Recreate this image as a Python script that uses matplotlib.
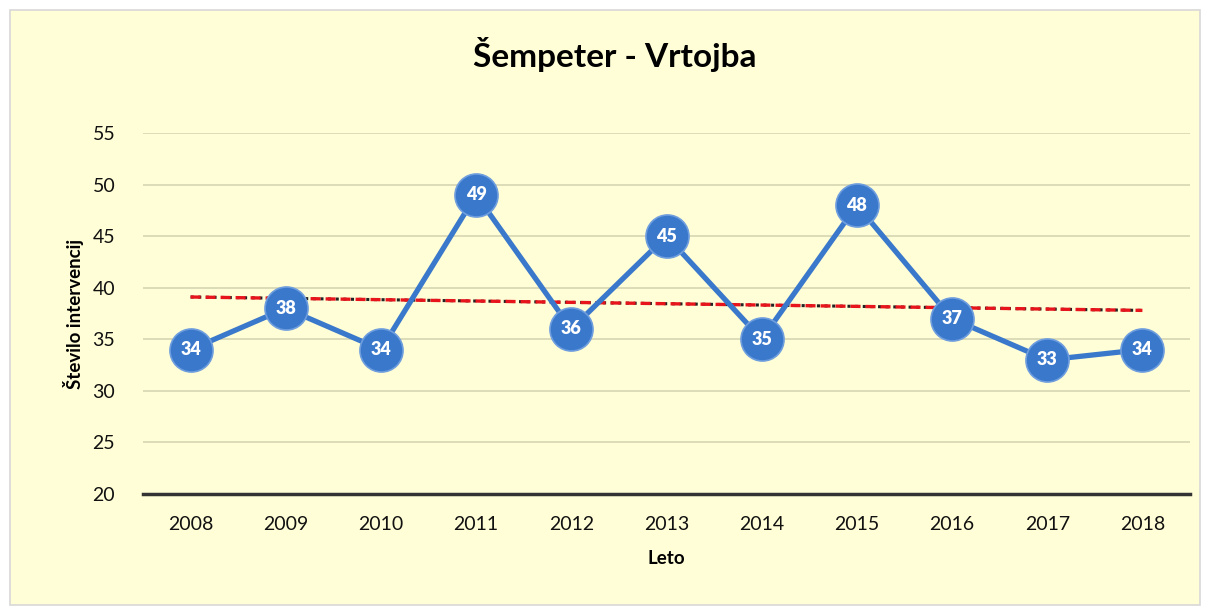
import numpy as np
import matplotlib
matplotlib.use("Agg")
from matplotlib import pyplot as plt
from matplotlib.patches import Rectangle

plt.rcParams['font.family'] = ['Lato', 'DejaVu Sans']

years = ['2008', '2009', '2010', '2011', '2012', '2013', '2014', '2015', '2016', '2017', '2018']
interventions = [34, 38, 34, 49, 36, 45, 35, 48, 37, 33, 34]
trend_ends = [39.1, 37.8]  # linear trend read at first and last year

bg = '#fffed6'
blue = '#3a78cc'

fig = plt.figure(figsize=(12.09, 6.09), dpi=100)
fig.patch.set_facecolor('white')
# yellow chart panel
fig.patches.append(Rectangle((10/1209, 4/609), 1190/1209, 595/609, transform=fig.transFigure,
                             facecolor=bg, edgecolor='#d8d8d8', linewidth=1.2, zorder=-10))

ax = fig.add_axes([143/1209, 1 - 494/609, 1047/1209, 361/609])
ax.set_zorder(5)
ax.patch.set_alpha(0)

xs = np.arange(len(years))
ax.set_xlim(-0.5, len(years) - 0.5)
ax.set_ylim(20, 55)
ax.set_yticks(np.arange(20, 56, 5))
ax.set_xticks(xs)
ax.set_xticklabels(years)
ax.tick_params(length=0, labelsize=14, colors='#111111', pad=16)
ax.tick_params(axis='y', pad=20)
for s in ['top', 'right', 'left']:
    ax.spines[s].set_visible(False)
ax.spines['bottom'].set_color('#333333')
ax.spines['bottom'].set_linewidth(2.5)
ax.grid(axis='y', color='#d6d6b4', linewidth=1.2)
ax.set_axisbelow(True)

ax.plot(xs, interventions, color=blue, linewidth=3.8, marker='o', markersize=31,
        markerfacecolor=blue, markeredgecolor='#6f9ede', markeredgewidth=1.2, zorder=3)
for x, v in zip(xs, interventions):
    ax.text(x, v, str(v), color='white', fontsize=13, fontweight='heavy',
            ha='center', va='center', zorder=4)

# trend line: black dotted under red dashes
ax.plot([xs[0], xs[-1]], trend_ends, color='#222222', linewidth=2.2, linestyle=(0, (1, 1.5)), zorder=2)
ax.plot([xs[0], xs[-1]], trend_ends, color='#e8141c', linewidth=2.4, linestyle=(0, (3, 1.5)), zorder=2)

ax.set_xlabel('Leto', fontsize=13.5, fontweight='bold', labelpad=12)
ax.set_ylabel('Število intervencij', fontsize=13.5, fontweight='bold', labelpad=6)
fig.text(615/1209, 1 - 55/609, 'Šempeter - Vrtojba', fontsize=24, fontweight='bold',
         ha='center', va='center')

plt.savefig('out.png', dpi=100, facecolor='white')
